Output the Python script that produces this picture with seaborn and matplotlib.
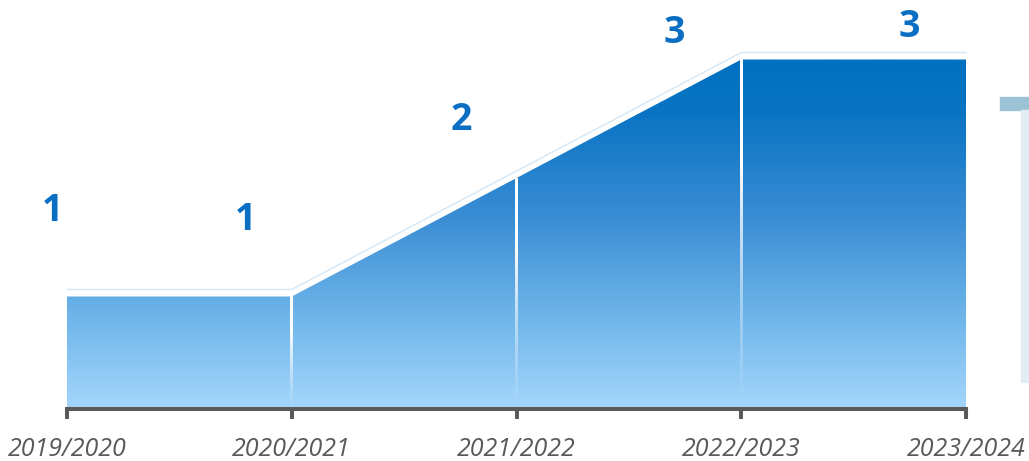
import numpy as np
import matplotlib
matplotlib.use("Agg")
import matplotlib.pyplot as plt
import seaborn as sns
from matplotlib.colors import to_rgb
from matplotlib.patches import Rectangle

# ---- data ----
categories = ["2019/2020", "2020/2021", "2021/2022", "2022/2023", "2023/2024"]
values = [1, 1, 2, 3, 3]
value_labels = ["1", "1", "2", "3", "3"]

# ---- layout / style ----
label_offsets_px = [(-15, 86), (-46, 77), (-55, 58), (-67, 27), (-57, 33)]
W, H, DPI = 1029, 461, 100
axis_px = 409          # pixel row of the x axis line
zero_px = 415          # pixel row of value 0
unit_px = 118.5        # pixels per unit
grad_stops = [(60, "#0070C0"), (115, "#0A74C4"), (217, "#3A8DD4"),
              (298, "#64AEE6"), (317, "#6EB5EA"), (405, "#A3D5FB")]
axis_color = "#595959"
label_color = "#0A6FC2"

sns.set_theme(style="white")
plt.rcParams["font.family"] = ["Open Sans", "DejaVu Sans"]

fig = plt.figure(figsize=(W / DPI, H / DPI), dpi=DPI)
left_px, right_px = 67, 966
ax = fig.add_axes([left_px / W, (H - axis_px) / H, (right_px - left_px) / W, axis_px / H])

xpos = np.arange(len(categories))
ylo = (zero_px - axis_px) / unit_px
yhi = zero_px / unit_px
ax.set_xlim(0, len(categories) - 1)
ax.set_ylim(ylo, yhi)
px_per_x = (right_px - left_px) / (len(categories) - 1)

# gradient fill clipped to area polygon
poly = ax.fill_between(xpos, 0, values, facecolor="none", edgecolor="none")
rows = np.arange(0, axis_px + 1)
sp = np.array([s[0] for s in grad_stops], float)
sc = np.array([to_rgb(s[1]) for s in grad_stops])
img = np.zeros((len(rows), 2, 3))
for k in range(3):
    col = np.interp(rows, sp, sc[:, k])
    img[:, 0, k] = col
    img[:, 1, k] = col
im = ax.imshow(img, extent=[0, len(categories) - 1, ylo, yhi], aspect="auto",
               origin="upper", interpolation="bilinear", zorder=1)
im.set_clip_path(poly.get_paths()[0], transform=ax.transData)

# pale outline slightly above the area
off = 7 / unit_px
sns.lineplot(x=xpos, y=np.array(values, float) + off, ax=ax, color="#d3e7f6",
             linewidth=1.0, zorder=2, clip_on=False)

# white separators fading toward the bottom
half_w = 1.5 / px_per_x
for i in range(1, len(values) - 1):
    n = 200
    t = np.linspace(0, 1, n)
    alpha = np.clip(np.where(t < 0.3, 1.0, 1.0 - (t - 0.3) / 0.68), 0, 1)
    sep = np.ones((n, 2, 4))
    sep[:, :, 3] = alpha[:, None]
    ax.imshow(sep, extent=[xpos[i] - half_w, xpos[i] + half_w, ylo, values[i]],
              aspect="auto", origin="upper", interpolation="bilinear", zorder=3)
ax.set_xlim(0, len(categories) - 1)
ax.set_ylim(ylo, yhi)

# value labels
for i, (v, lab) in enumerate(zip(values, value_labels)):
    dx, dy = label_offsets_px[i]
    ax.annotate(lab, xy=(xpos[i], v), xytext=(dx, dy), textcoords="offset pixels",
                ha="center", va="center", fontsize=27, fontweight="bold",
                color=label_color, annotation_clip=False)

# axes styling
for s in ["top", "left", "right"]:
    ax.spines[s].set_visible(False)
ax.spines["bottom"].set_color(axis_color)
ax.spines["bottom"].set_linewidth(2.9)
ax.spines["bottom"].set_zorder(5)
ax.set_yticks([])
ax.set_xticks(xpos)
ax.set_xticklabels(categories, fontsize=18, fontstyle="italic", color=axis_color)
ax.tick_params(axis="x", direction="out", length=7, width=2.9, color=axis_color,
               pad=13, bottom=True)
ax.grid(False)
ax.set_facecolor("none")

# right-side decoration
fig.patches.append(Rectangle((1000 / W, (H - 110) / H), 29 / W, 13 / H,
                             transform=fig.transFigure, color="#9CC3D5", zorder=0))
fig.patches.append(Rectangle((1021 / W, (H - 382) / H), 8 / W, 272 / H,
                             transform=fig.transFigure, color="#E1ECF5", zorder=0))

fig.savefig("out.png", dpi=DPI)
